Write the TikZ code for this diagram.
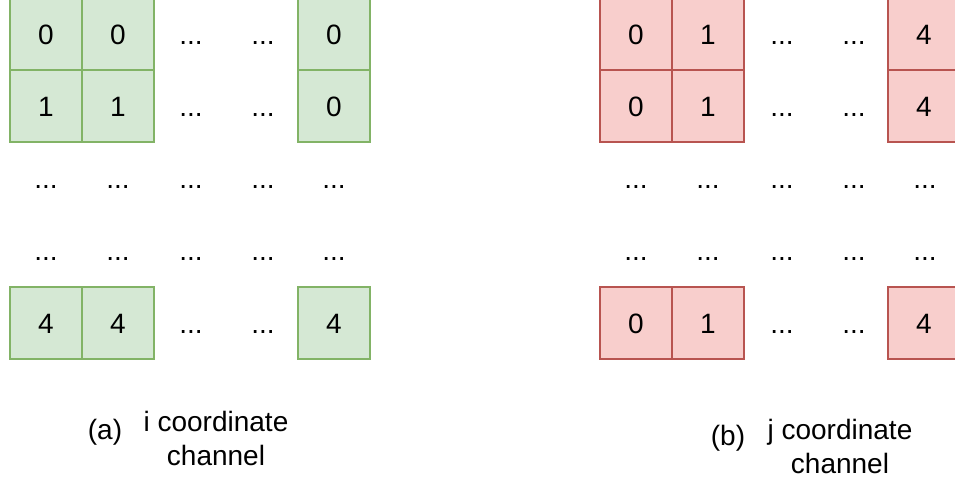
\documentclass[tikz,border=0pt]{standalone}
\usepackage{fontspec}
\setmainfont{Liberation Sans}
\definecolor{gfill}{HTML}{D5E8D4}
\definecolor{gline}{HTML}{82B366}
\definecolor{rfill}{HTML}{F8CECC}
\definecolor{rline}{HTML}{B85450}
\begin{document}
\begin{tikzpicture}[x=1pt,y=-1pt,
  every node/.style={font=\fontsize{28}{34}\selectfont},
  cellbox/.style={draw, line width=1.5pt, minimum width=72pt, minimum height=72pt, inner sep=0pt, anchor=center, text height=20pt, text depth=0pt},
  gcell/.style={cellbox, draw=gline, fill=gfill},
  rcell/.style={cellbox, draw=rline, fill=rfill},
  dotstxt/.style={inner sep=0pt, anchor=center, text height=20pt, text depth=0pt},
  labeltxt/.style={align=center, inner sep=0pt, anchor=center}]
\useasboundingbox (0,0) rectangle (955,477);
% ---------- green grid (i coordinate) ----------
\node[gcell] (g11) at (46,34) {0};
\node[gcell] (g12) at (118,34) {0};
\node[dotstxt] (g13) at (191,34) {...};
\node[dotstxt] (g14) at (263,34) {...};
\node[gcell] (g15) at (334,34) {0};
\node[gcell] (g21) at (46,106) {1};
\node[gcell] (g22) at (118,106) {1};
\node[dotstxt] (g23) at (191,106) {...};
\node[dotstxt] (g24) at (263,106) {...};
\node[gcell] (g25) at (334,106) {0};
\foreach \c/\x in {1/46,2/118,3/191,4/263,5/334}{
  \node[dotstxt] (g3\c) at (\x,178) {...};
  \node[dotstxt] (g4\c) at (\x,250) {...};
}
\node[gcell] (g51) at (46,323) {4};
\node[gcell] (g52) at (118,323) {4};
\node[dotstxt] (g53) at (191,323) {...};
\node[dotstxt] (g54) at (263,323) {...};
\node[gcell] (g55) at (334,323) {4};
\node[labeltxt] (galab) at (105,432) {(a)};
\node[labeltxt] (gatxt) at (216,438) {i coordinate\\channel};
% ---------- red grid (j coordinate) ----------
\node[rcell] (r11) at (636,34) {0};
\node[rcell] (r12) at (708,34) {1};
\node[dotstxt] (r13) at (782,34) {...};
\node[dotstxt] (r14) at (854,34) {...};
\node[rcell] (r15) at (924,34) {4};
\node[rcell] (r21) at (636,106) {0};
\node[rcell] (r22) at (708,106) {1};
\node[dotstxt] (r23) at (782,106) {...};
\node[dotstxt] (r24) at (854,106) {...};
\node[rcell] (r25) at (924,106) {4};
\foreach \c/\x in {1/636,2/708,3/782,4/854,5/925}{
  \node[dotstxt] (r3\c) at (\x,178) {...};
  \node[dotstxt] (r4\c) at (\x,250) {...};
}
\node[rcell] (r51) at (636,323) {0};
\node[rcell] (r52) at (708,323) {1};
\node[dotstxt] (r53) at (782,323) {...};
\node[dotstxt] (r54) at (854,323) {...};
\node[rcell] (r55) at (924,323) {4};
\node[labeltxt] (rblab) at (728,438) {(b)};
\node[labeltxt] (rbtxt) at (840,446) {j coordinate\\channel};
\end{tikzpicture}
\end{document}
